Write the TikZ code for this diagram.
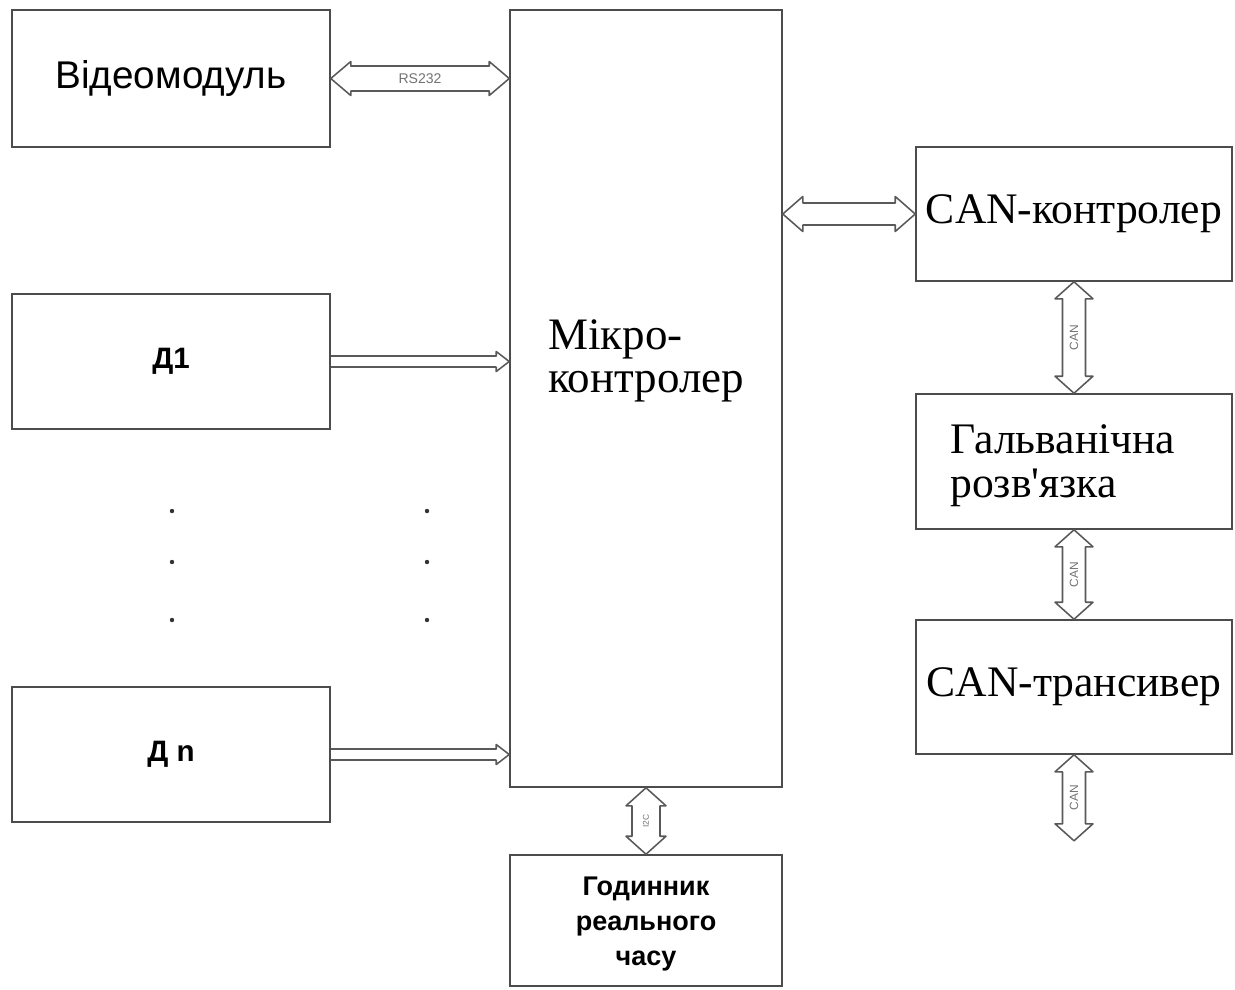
\documentclass[tikz,border=0pt]{standalone}
\usepackage{fontspec}
\setmainfont{Liberation Serif}
\newfontfamily\arialfont{Liberation Sans}
\usepackage{tikz}
\usetikzlibrary{positioning, calc}

% double-headed bus: left/top end, right/bottom end, shaft half, head half, head length
\newcommand{\hbus}[5]{%
  \draw[bus] (#1) -- ($(#1)+(#5,-#4)$) -- ($(#1)+(#5,-#3)$) -- ($(#2)+(-#5,-#3)$)
    -- ($(#2)+(-#5,-#4)$) -- (#2) -- ($(#2)+(-#5,#4)$) -- ($(#2)+(-#5,#3)$)
    -- ($(#1)+(#5,#3)$) -- ($(#1)+(#5,#4)$) -- cycle;}
\newcommand{\vbus}[5]{%
  \draw[bus] (#1) -- ($(#1)+(#4,#5)$) -- ($(#1)+(#3,#5)$) -- ($(#2)+(#3,-#5)$)
    -- ($(#2)+(#4,-#5)$) -- (#2) -- ($(#2)+(-#4,-#5)$) -- ($(#2)+(-#3,-#5)$)
    -- ($(#1)+(-#3,#5)$) -- ($(#1)+(-#4,#5)$) -- cycle;}
% one-way signal line
\newcommand{\hsig}[5]{%
  \draw[bus] ($(#1)+(0,-#3)$) -- ($(#2)+(-#5,-#3)$) -- ($(#2)+(-#5,-#4)$) -- (#2)
    -- ($(#2)+(-#5,#4)$) -- ($(#2)+(-#5,#3)$) -- ($(#1)+(0,#3)$);}

\begin{document}
\begin{tikzpicture}[x=0.025cm, y=-0.025cm,
    box/.style={draw=black!70, line width=1.1pt, inner sep=0pt},
    bus/.style={draw=black!65, line width=1.1pt, line join=round},
    sanslbl/.style={font=\arialfont\fontsize{27.5}{32}\selectfont},
    senslbl/.style={font=\arialfont\bfseries\fontsize{21}{25}\selectfont},
    seriflbl/.style={font=\fontsize{31}{31.5}\selectfont, align=left},
    buslabel/.style={font=\arialfont\fontsize{8.5}{9}\selectfont, text=black!55, inner sep=0pt},
    dot/.style={fill=black!80}]
  \def\px{0.025cm}
  \useasboundingbox (0,0) rectangle (1235,989);

  % left column
  \node[box, sanslbl, minimum width=318*\px, minimum height=137*\px] (video) at (171,78.5) {\raisebox{-2pt}{Відеомодуль}};
  \node[box, senslbl, minimum width=318*\px, minimum height=135*\px] (d1) at (171,361.5) {Д1};
  \node[box, senslbl, minimum width=318*\px, minimum height=135*\px] (dn) at (171,754.5) {Д n};

  % microcontroller and clock
  \node[box, minimum width=272*\px, minimum height=777*\px] (mcu) at (646,398.5) {};
  \node[seriflbl, font=\fontsize{32}{31}\selectfont, anchor=west, inner sep=0pt] (mcutext) at (548,361) {Мікро-\\контролер};
  \node[box, minimum width=272*\px, minimum height=131*\px] (clock) at (646,920.5) {};
  \node[font=\arialfont\bfseries\fontsize{19.2}{24.6}\selectfont, align=center, inner sep=0pt]
    (clocktext) at (646,924) {Годинник\\реального\\часу};

  % CAN chain
  \node[box, seriflbl, minimum width=316*\px, minimum height=134*\px] (ctrl) at (1074,214) {CAN-контролер};
  \node[box, minimum width=316*\px, minimum height=135*\px] (galv) at (1074,461.5) {};
  \node[seriflbl, anchor=west, inner sep=0pt] (galvtext) at (950,466) {Гальванічна\\розв\textquotesingle язка};
  \node[box, seriflbl, minimum width=316*\px, minimum height=134*\px] (trx) at (1074,687) {CAN-трансивер};

  % connections
  \coordinate (rsin) at (mcu.west |- video.east);
  \hbus{video.east}{rsin}{12.5}{17}{20}
  \node[buslabel, font=\arialfont\fontsize{10}{11}\selectfont] (rslabel) at ($(video.east)!0.5!(rsin)$) {RS232};

  \coordinate (canout) at (mcu.east |- ctrl.west);
  \hbus{canout}{ctrl.west}{11}{17.5}{20}

  \coordinate (d1in) at (mcu.west |- d1.east);
  \coordinate (dnin) at (mcu.west |- dn.east);
  \hsig{d1.east}{d1in}{5.5}{10}{13}
  \hsig{dn.east}{dnin}{5.5}{10}{13}

  \vbus{mcu.south}{clock.north}{14}{20}{18}
  \node[buslabel, rotate=90, font=\arialfont\fontsize{6}{7}\selectfont] (i2c) at ($(mcu.south)!0.5!(clock.north)$) {I2C};

  \coordinate (busend) at ($(trx.south)+(0,86)$);
  \vbus{ctrl.south}{galv.north}{11.5}{19}{17}
  \vbus{galv.south}{trx.north}{11.5}{19}{17}
  \vbus{trx.south}{busend}{11.5}{19}{17}
  \foreach \a/\b [count=\i] in {ctrl.south/galv.north, galv.south/trx.north, trx.south/busend}
    \node[buslabel, rotate=90] (canlbl\i) at ($(\a)!0.5!(\b)$) {CAN};

  % dots between sensors
  \foreach \yy in {511,562,620} {
    \fill[dot] (172,\yy) circle (2.2);
    \fill[dot] (427,\yy) circle (2.2);
  }
\end{tikzpicture}
\end{document}
